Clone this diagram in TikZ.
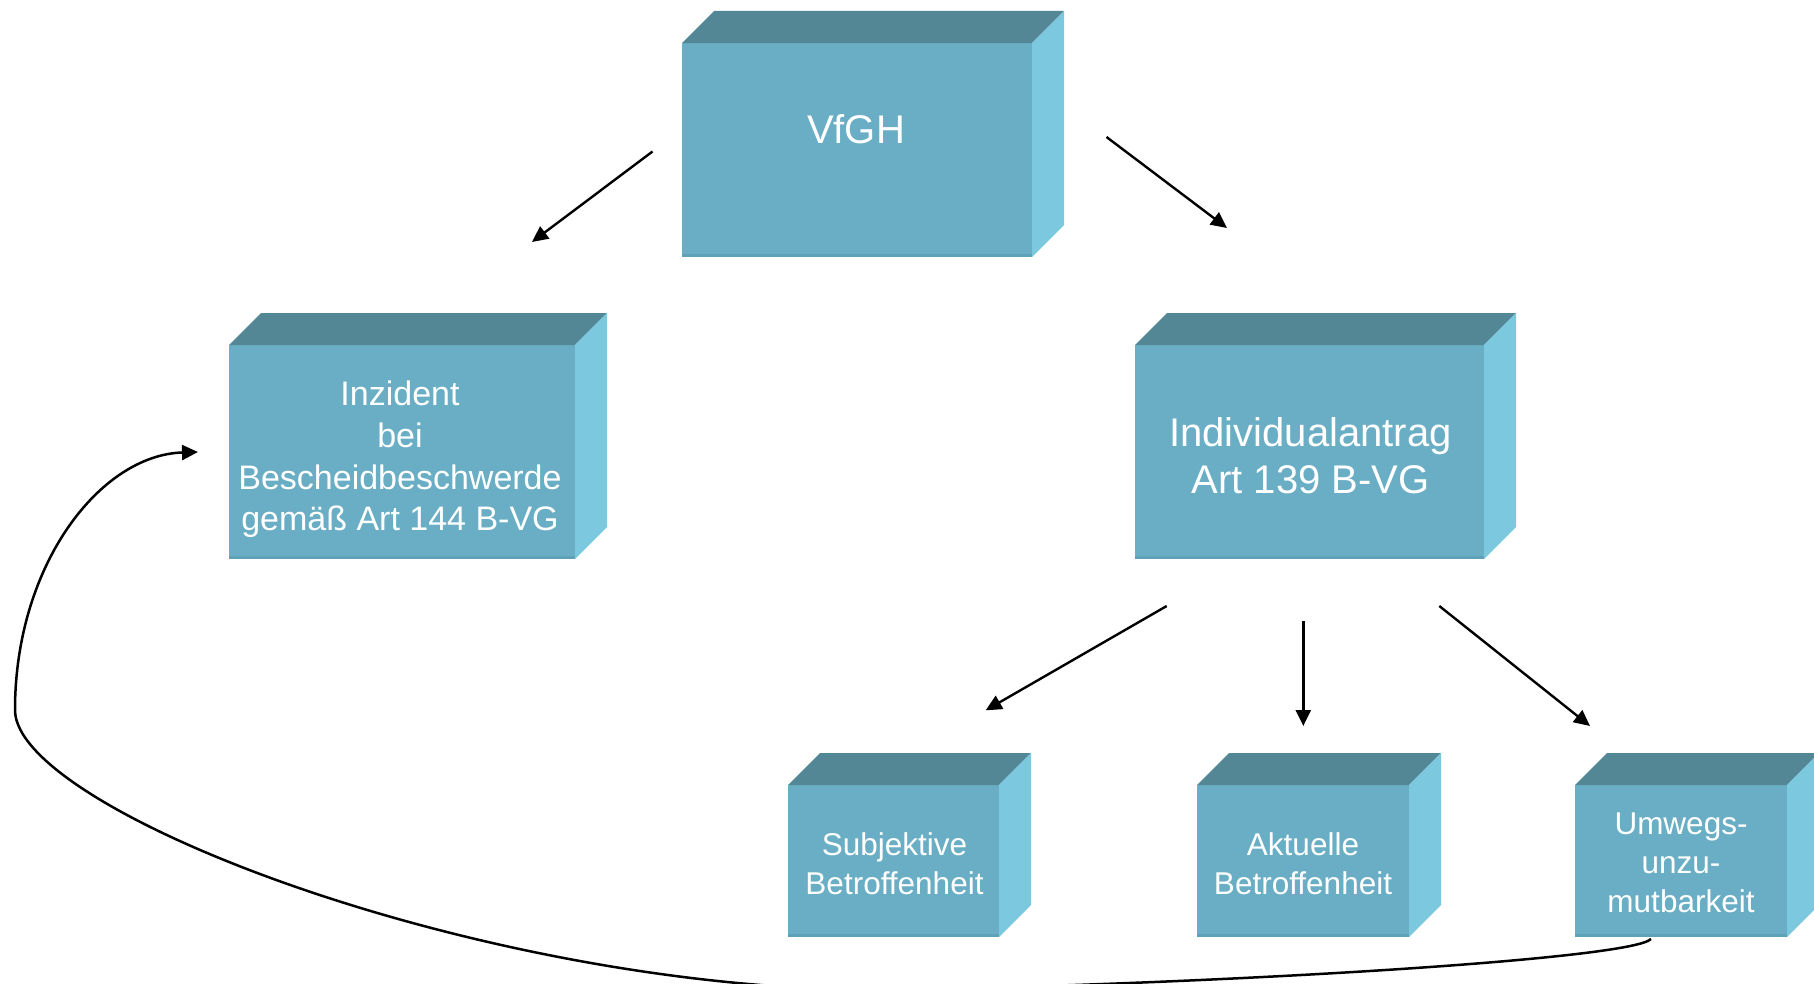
\documentclass[tikz,border=0pt]{standalone}
\usepackage{fontspec}
\setmainfont{Liberation Sans}
\usetikzlibrary{arrows.meta}

\definecolor{cubefrontc}{RGB}{105,174,196}
\definecolor{cubetopc}{RGB}{83,135,150}
\definecolor{cubesidec}{RGB}{123,200,223}
\definecolor{cubeedgec}{RGB}{95,162,184}

% depth of the receding faces
\def\cdepth{32}

% top and right faces of a box whose front face is node #1
\newcommand\cubefaces[1]{%
  \fill[cubetopc] (#1.north west) -- ++(\cdepth,-\cdepth)
    -- ([shift={(\cdepth,-\cdepth)}]#1.north east) -- (#1.north east) -- cycle;
  \fill[cubesidec] (#1.north east) -- ++(\cdepth,-\cdepth)
    -- ([shift={(\cdepth,-\cdepth)}]#1.south east) -- (#1.south east) -- cycle;
  \fill[cubeedgec] (#1.south west) rectangle ([yshift=3bp]#1.south east);
}

\begin{document}
\begin{tikzpicture}[x=1bp,y=-1bp,
  cubefront/.style={rectangle, fill=cubefrontc, inner sep=0pt, outer sep=0pt},
  lbl/.style={text=white, align=center, inner sep=0pt, outer sep=0pt},
  bigtext/.style={font=\fontsize{40bp}{46.7bp}\selectfont},
  midtext/.style={font=\fontsize{34bp}{41.7bp}\selectfont},
  smalltext/.style={font=\fontsize{31.5bp}{38.8bp}\selectfont},
  conn/.style={line width=2.4bp, -{Triangle[length=16bp,width=15bp]}},
]
\useasboundingbox (0,0) rectangle (1814,983);

% front faces
\node[cubefront, minimum width=350bp, minimum height=214bp] (vfgh) at (857,150) {};
\node[cubefront, minimum width=346bp, minimum height=214bp] (inz)  at (402,452) {};
\node[cubefront, minimum width=349bp, minimum height=214bp] (ind)  at (1309.5,452) {};
\node[cubefront, minimum width=211bp, minimum height=152bp] (subj) at (893.5,861) {};
\node[cubefront, minimum width=212bp, minimum height=152bp] (akt)  at (1303,861) {};
\node[cubefront, minimum width=212bp, minimum height=152bp] (umw)  at (1681,861) {};

\cubefaces{vfgh}
\cubefaces{inz}
\cubefaces{ind}
\cubefaces{subj}
\cubefaces{akt}
\cubefaces{umw}

% labels
\node[lbl, bigtext]   (vfgh-t) at (856,129) {VfGH};
\node[lbl, midtext]   (inz-t)  at (400,459.5) {Inzident\\bei\\Bescheidbeschwerde\\gemäß Art 144 B-VG};
\node[lbl, bigtext]   (ind-t)  at (1310.5,455.4) {Individualantrag\\Art 139 B-VG};
\node[lbl, smalltext] (subj-t) at (894.5,863.5) {Subjektive\\Betroffenheit};
\node[lbl, smalltext] (akt-t)  at (1303,863.5) {Aktuelle\\Betroffenheit};
\node[lbl, smalltext] (umw-t)  at (1681,862.9) {Umwegs-\\unzu-\\mutbarkeit};

% connector end points
\coordinate (a1s) at (652.5,151.5);  \coordinate (a1e) at (532,242);
\coordinate (a2s) at (1106.5,137);   \coordinate (a2e) at (1227,228);
\coordinate (a3s) at (1166.7,606);   \coordinate (a3e) at (985.7,710.3);
\coordinate (a4s) at (1303.3,621);   \coordinate (a4e) at (1303.3,726);
\coordinate (a5s) at (1439.3,606);   \coordinate (a5e) at (1590,726);
\coordinate (loops) at (1651,939);   \coordinate (loope) at (198,452);

\draw[conn] (a1s) -- (a1e);
\draw[conn] (a2s) -- (a2e);
\draw[conn] (a3s) -- (a3e);
\draw[conn] (a4s) -- (a4e);
\draw[conn] (a5s) -- (a5e);

% return loop from the bottom right box back to the left box
\draw[conn, line width=2.5bp] (loops)
  .. controls (1630,960) and (1200,985) .. (880,990)
  .. controls (480,990) and (15,810) .. (15,710)
  .. controls (15,565) and (100,455) .. (loope);
\end{tikzpicture}
\end{document}
